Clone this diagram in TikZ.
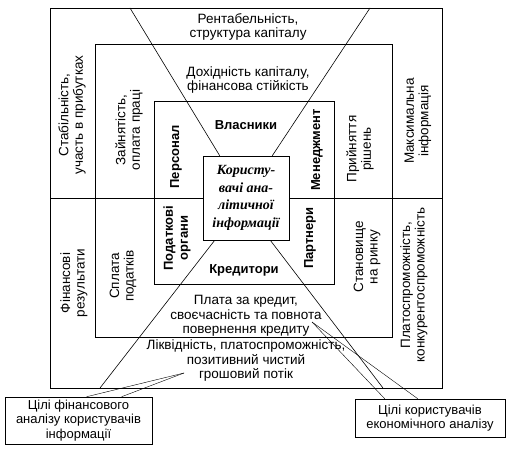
\documentclass[tikz,border=0pt]{standalone}
\usepackage{fontspec}
\setmainfont{Liberation Sans}
\newfontfamily\usersfont{Liberation Serif}
\usetikzlibrary{positioning,calc}
\tikzset{>=latex}
\tikzset{lbl/.style={align=center, inner sep=1pt,
    font=\fontsize{13.5}{14.5}\selectfont}}
\tikzset{vlbl/.style={lbl, rotate=90}}
\tikzset{grp/.style={align=center, inner sep=1pt,
    font=\fontsize{13}{15}\selectfont\bfseries}}
\tikzset{userbox/.style={draw, fill=white, align=center, inner sep=0pt,
    minimum width=86pt, minimum height=84pt,
    font=\usersfont\fontsize{14}{17.5}\selectfont\bfseries\itshape}}
\tikzset{callout/.style={draw, fill=white, align=center, inner sep=1pt,
    font=\fontsize{13}{14.5}\selectfont}}

\begin{document}
\begin{tikzpicture}[x=1pt, y=-1pt, line width=0.6pt]
  \useasboundingbox (0,0) rectangle (509,452);
  % frames
  \draw (50,8) rectangle (442,388);
  \draw (95,44) rectangle (392,337);
  \draw (154,101) rectangle (334,284);
  \node[userbox] (users) at (246,198) {Користу-\\вачі ана-\\літичної\\інформації};
  % dividers
  \draw (130,8) -- ([xshift=17pt]users.north west);
  \draw (370,8) -- ([xshift=-17pt]users.north east);
  \draw (100,388) -- ([xshift=12pt]users.south west);
  \draw (383,388) -- ([xshift=-19pt]users.south east);
  \draw (50,198) -- (users.west);
  \draw (users.east) -- (442,198);
  % goals, horizontal
  \node[lbl] (profit) at (248,27) {Рентабельність,\\структура капіталу};
  \node[lbl] (income) at (248,80) {Дохідність капіталу,\\фінансова стійкість};
  \node[lbl] (credit) at (246,316) {Плата за кредит,\\своєчасність та повнота\\повернення кредиту};
  \node[lbl] (liquid) at (246,361) {Ліквідність, платоспроможність,\\позитивний чистий\\грошовий потік};
  % goals, vertical
  \foreach \x/\y/\n/\t in {
      72/115/stab/{Стабільність,\\участь в прибутках},
      74/283/finres/{Фінансові\\результати},
      129/130/empl/{Зайнятість,\\оплата праці},
      123/276/taxes/{Сплата\\податків},
      360/149/decis/{Прийняття\\рішень},
      367/257/market/{Становище\\на ринку},
      418/121/info/{Максимальна\\інформація},
      414/285/compet/{Платоспроможність,\\конкурентоспроможність}}
    \node[vlbl] (\n) at (\x,\y) {\t};
  % user groups
  \node[grp] (owners) at (246,125) {Власники};
  \node[grp] (creditors) at (244,270) {Кредитори};
  \node[grp, rotate=90] (staff) at (176,157) {Персонал};
  \node[grp, rotate=90] (taxorg) at (177,238) {Податкові\\органи};
  \node[grp, rotate=90] (mgmt) at (317,150) {Менеджмент};
  \node[grp, rotate=90] (partners) at (310,238) {Партнери};
  % callouts
  \node[callout, minimum width=147pt, minimum height=47pt] (goalsfin) at (78.5,420.5)
    {Цілі фінансового\\аналізу користувачів\\інформації};
  \node[callout, minimum width=150pt, minimum height=38pt] (goalsecon) at (430,418)
    {Цілі користувачів\\економічного аналізу};
  \coordinate (ftip) at (184,373);
  \coordinate (etip) at (312,322);
  \draw[thin] (ftip) -- ([xshift=82pt]goalsfin.north west);
  \draw[thin] (ftip) -- ([xshift=117pt]goalsfin.north west);
  \draw[thin] (etip) -- ([xshift=30pt]goalsecon.north west);
  \draw[thin] (etip) -- ([xshift=63pt]goalsecon.north west);
\end{tikzpicture}
\end{document}
